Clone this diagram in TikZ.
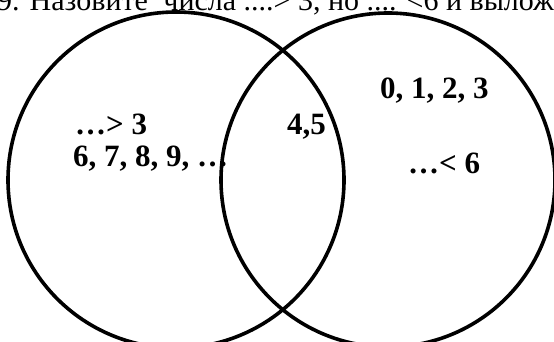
\documentclass[tikz,border=0pt]{standalone}
\usepackage{fontspec}
\setmainfont{Liberation Serif}
\tikzset{
  venn/.style={draw=black, line width=3.6pt},
  lbl/.style={anchor=base west, inner sep=0pt, font=\fontsize{31}{36}\selectfont\bfseries},
  head/.style={anchor=base west, inner sep=0pt, font=\fontsize{30}{36}\selectfont}
}
\begin{document}
\begin{tikzpicture}[x=1pt,y=-1pt]
\useasboundingbox (0,0) rectangle (554,342);
\clip (0,0) rectangle (554,342);
\node[head] (title) at (-3,11) {9. Назовите\hspace{8pt} числа ....> 3, но .... <6 и выложите};
\draw[venn] (176,180) circle (168);
\draw[venn] (388,180) circle (167);
\node[lbl] (a) at (75,135) {…> 3};
\node[lbl] (b) at (73,167) {6, 7, 8, 9, …};
\node[lbl] (c) at (287,135) {4,5};
\node[lbl] (d) at (380,99) {0, 1, 2, 3};
\node[lbl] (e) at (408,173) {…< 6};
\end{tikzpicture}
\end{document}
